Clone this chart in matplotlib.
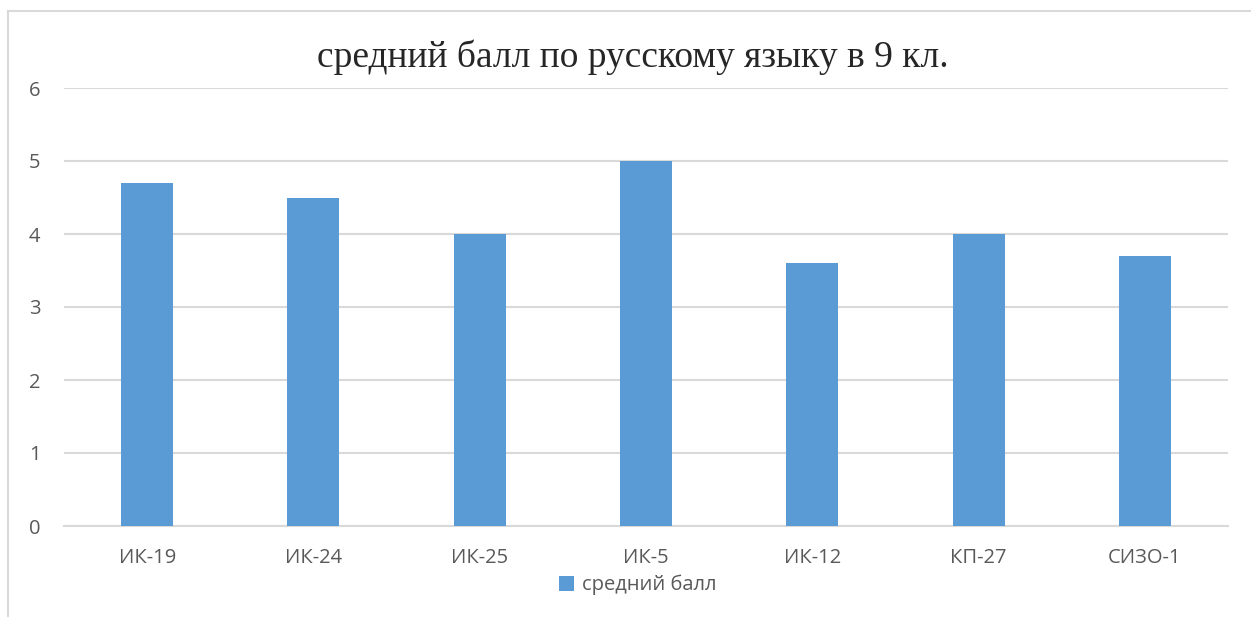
import matplotlib
matplotlib.use("Agg")
import matplotlib.pyplot as plt
from matplotlib.lines import Line2D
from matplotlib.patches import Patch

categories = ["ИК-19", "ИК-24", "ИК-25", "ИК-5", "ИК-12", "КП-27", "СИЗО-1"]
values = [4.7, 4.5, 4.0, 5.0, 3.6, 4.0, 3.7]
series_name = "средний балл"
title = "средний балл по русскому языку в 9 кл."
yticks = [0, 1, 2, 3, 4, 5, 6]

W, H = 1251, 617
fig = plt.figure(figsize=(W / 100, H / 100), dpi=100)
fig.patch.set_facecolor("white")

# outer chart frame (cropped at right and bottom)
fig.add_artist(Line2D([8 / W, 8 / W], [0, 1 - 11 / H], transform=fig.transFigure, color="#D9D9D9", lw=1.5))
fig.add_artist(Line2D([8 / W, 1.0], [1 - 11 / H, 1 - 11 / H], transform=fig.transFigure, color="#D9D9D9", lw=1.5))

left, right = 64 / W, 1228 / W
bottom, top = 1 - 526 / H, 1 - 88 / H
ax = fig.add_axes([left, bottom, right - left, top - bottom])

x = list(range(len(categories)))
ax.bar(x, values, width=0.313, color="#5B9BD5", zorder=3)
ax.set_xlim(-0.5, len(categories) - 0.5)
ax.set_ylim(0, 6)
ax.set_yticks(yticks)
ax.set_xticks(x)
ax.set_xticklabels(categories)
ax.yaxis.grid(True, color="#D9D9D9", lw=1.5, zorder=0)
ax.set_axisbelow(True)
for s in ["top", "right", "left"]:
    ax.spines[s].set_visible(False)
ax.spines["bottom"].set_color("#D9D9D9")
ax.spines["bottom"].set_linewidth(1.5)
ax.tick_params(axis="both", length=0, colors="#595959", labelsize=14.5)
ax.tick_params(axis="x", pad=16)
ax.tick_params(axis="y", pad=17)
for lab in ax.get_xticklabels() + ax.get_yticklabels():
    lab.set_family(["Open Sans", "DejaVu Sans"])

fig.text(633 / W, 1 - 57 / H, title, ha="center", va="center",
         fontsize=27, family=["Liberation Serif", "DejaVu Serif"], color="#262626")

leg = fig.legend(handles=[Patch(facecolor="#5B9BD5", label=series_name)],
                 loc="center", bbox_to_anchor=(638 / W, 1 - 585 / H), frameon=False,
                 prop={"family": ["Open Sans", "DejaVu Sans"], "size": 14.5},
                 handlelength=0.75, handleheight=0.75, handletextpad=0.4)
for t in leg.get_texts():
    t.set_color("#595959")

fig.savefig("out.png", dpi=100, facecolor="white")
